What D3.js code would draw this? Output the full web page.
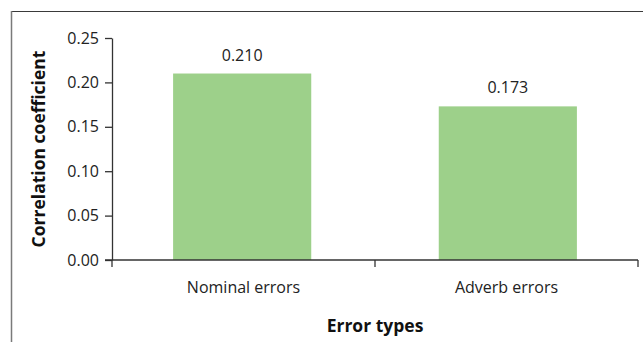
<!DOCTYPE html>
<html>
<head>
<meta charset="utf-8">
<script src="https://cdn.jsdelivr.net/npm/d3@7/dist/d3.min.js"></script>
<style>
  html, body { margin: 0; padding: 0; background: #fff; }
  svg { display: block; font-family: "Open Sans", sans-serif; }
</style>
</head>
<body>
<svg id="chart" width="643" height="342"></svg>
<script>
// Chart data
const categories = ["Nominal errors", "Adverb errors"];
const values = [0.210, 0.173];
const valueLabels = ["0.210", "0.173"];
const yTicks = [0, 0.05, 0.10, 0.15, 0.20, 0.25];
const xTitle = "Error types";
const yTitle = "Correlation coefficient";

const svg = d3.select("#chart");
const W = 643, H = 342;
const plot = { left: 112, right: 638, top: 38, bottom: 260 };

// Frame lines (top and left)
svg.append("line")
  .attr("x1", 11).attr("x2", W).attr("y1", 11.5).attr("y2", 11.5)
  .attr("stroke", "#3a3a3a").attr("stroke-width", 1.2);
svg.append("line")
  .attr("x1", 11.5).attr("x2", 11.5).attr("y1", 11).attr("y2", H)
  .attr("stroke", "#7a7a7a").attr("stroke-width", 1.5);

const x = d3.scaleBand()
  .domain(categories)
  .range([plot.left, plot.right])
  .paddingInner(0.48)
  .paddingOuter(0.23);

const xCat = d3.scaleBand()
  .domain(categories)
  .range([plot.left, plot.right])
  .padding(0);

const y = d3.scaleLinear()
  .domain([0, 0.25])
  .range([plot.bottom, plot.top]);

// Bars
svg.append("g").selectAll("rect")
  .data(categories)
  .join("rect")
  .attr("x", d => x(d))
  .attr("width", x.bandwidth())
  .attr("y", (d, i) => y(values[i]))
  .attr("height", (d, i) => y(0) - y(values[i]))
  .attr("fill", "#9dd08a");

// Value labels
svg.append("g").selectAll("text")
  .data(categories)
  .join("text")
  .attr("x", d => x(d) + x.bandwidth() / 2)
  .attr("y", (d, i) => y(values[i]) - 13)
  .attr("text-anchor", "middle")
  .attr("font-size", 16)
  .attr("fill", "#222")
  .text((d, i) => valueLabels[i]);

// Y axis
const yAxis = svg.append("g")
  .attr("transform", `translate(${plot.left},0)`)
  .call(d3.axisLeft(y)
    .tickValues(yTicks)
    .tickFormat(d3.format(".2f"))
    .tickSize(7)
    .tickSizeOuter(0)
    .tickPadding(6));
yAxis.select(".domain").attr("stroke", "#333").attr("stroke-width", 1.3);
yAxis.selectAll(".tick line").attr("stroke", "#333").attr("stroke-width", 1.3);
yAxis.selectAll(".tick text")
  .attr("font-size", 16)
  .attr("font-family", "Open Sans, sans-serif")
  .attr("fill", "#222");

// X axis: ticks on category boundaries
const xAxis = svg.append("g")
  .attr("transform", `translate(0,${plot.bottom})`);
xAxis.append("line")
  .attr("x1", plot.left - 7).attr("x2", plot.right)
  .attr("y1", 0).attr("y2", 0)
  .attr("stroke", "#333").attr("stroke-width", 1.3);
const bounds = categories.map(c => xCat(c)).concat([xCat(categories[categories.length - 1]) + xCat.step()]);
xAxis.selectAll("line.tk")
  .data(bounds)
  .join("line")
  .attr("class", "tk")
  .attr("x1", d => d).attr("x2", d => d)
  .attr("y1", 0).attr("y2", 7)
  .attr("stroke", "#333").attr("stroke-width", 1.3);
xAxis.selectAll("text")
  .data(categories)
  .join("text")
  .attr("x", d => xCat(d) + xCat.bandwidth() / 2)
  .attr("y", 32.5)
  .attr("text-anchor", "middle")
  .attr("font-size", 16)
  .attr("fill", "#222")
  .text(d => d);

// Axis titles
svg.append("text")
  .attr("x", (plot.left + plot.right) / 2)
  .attr("y", 331.5)
  .attr("text-anchor", "middle")
  .attr("font-size", 17.5)
  .attr("font-weight", "bold")
  .attr("fill", "#111")
  .text(xTitle);

svg.append("text")
  .attr("transform", `translate(45,${(plot.top + plot.bottom) / 2}) rotate(-90)`)
  .attr("text-anchor", "middle")
  .attr("font-size", 17.5)
  .attr("font-weight", "bold")
  .attr("fill", "#111")
  .text(yTitle);
</script>
</body>
</html>
